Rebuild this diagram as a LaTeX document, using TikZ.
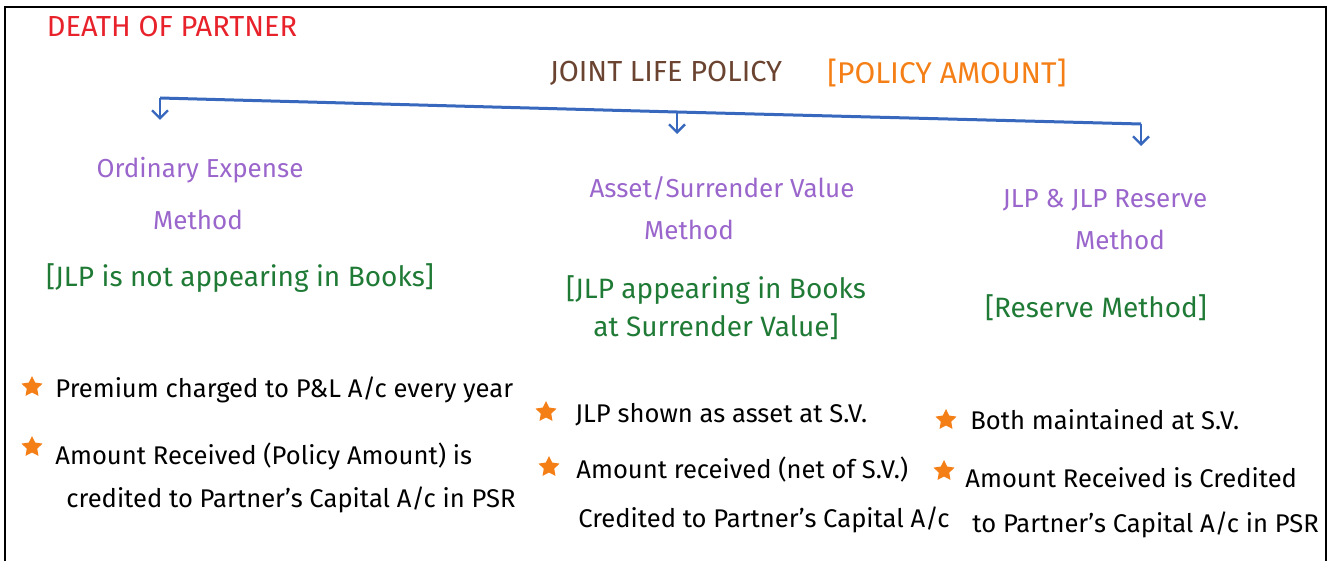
\documentclass[tikz,border=0pt]{standalone}
\usepackage{fontspec}
\setmainfont{Fira Sans}
\usetikzlibrary{arrows.meta,shapes.geometric,positioning}

\definecolor{titlered}{HTML}{E8222B}
\definecolor{policybrown}{HTML}{6B4431}
\definecolor{amtorange}{HTML}{F57F17}
\definecolor{barblue}{HTML}{3868BE}
\definecolor{methodpurple}{HTML}{9A66CC}
\definecolor{notegreen}{HTML}{1F7A35}

\tikzset{
  handtext/.style={inner sep=0pt, font=\fontsize{13}{15}\selectfont},
  method/.style={handtext, text=methodpurple, align=center},
  note/.style={handtext, text=notegreen, align=center, font=\fontsize{14}{16}\selectfont},
  point/.style={handtext, text=black, anchor=west, font=\fontsize{12.8}{15}\selectfont},
  bullet/.style={star, star points=5, star point ratio=2, fill=amtorange,
    inner sep=0pt, minimum size=11pt},
  bar/.style={barblue, line width=1.5pt},
  tip/.style={barblue, line width=1.2pt, -{Straight Barb[length=4pt,width=8pt]}}
}

\begin{document}
\begin{tikzpicture}[x=0.5pt,y=-0.5pt]

  \newcommand*{\xMin}{0}%
  \newcommand*{\xMax}{1333}%
  \newcommand*{\yMin}{0}%
  \newcommand*{\yMax}{561}%
  \useasboundingbox (\xMin,\yMin) rectangle (\xMax,\yMax);

  % frame, open at the bottom
  \draw[line width=1pt] (5,\yMax) -- (5,7) -- (1326,7) -- (1326,\yMax);

  % headings
  \node[handtext, text=titlered, font=\fontsize{14.5}{16}\selectfont] (death) at (172,27) {DEATH OF PARTNER};
  \node[handtext, text=policybrown, font=\fontsize{14.5}{16}\selectfont] (jlp) at (666,73) {JOINT LIFE POLICY};
  \node[handtext, text=amtorange, font=\fontsize{15}{17}\selectfont] (amt) at (947,73) {[POLICY AMOUNT]};

  % the bar and its three arrows
  \coordinate (barL) at (160,98);
  \coordinate (barM) at (677,112);
  \coordinate (barR) at (1141,124);
  \draw[bar] (barL) -- (barM) -- (barR);
  \foreach \c/\d in {barL/tipL, barM/tipM, barR/tipR} {
    \coordinate (\d) at ([yshift=-11pt]\c);
    \draw[tip] (\c) -- (\d);
  }

  % methods
  \node[method] (ordA) at (200,170) {Ordinary Expense};
  \node[method] (ordB) at (198,220) {Method};
  \node[method] (svA) at (722,188) {Asset/Surrender Value};
  \node[method] (svB) at (689,230) {Method};
  \node[method] (resA) at (1105,200) {JLP \& JLP Reserve};
  \node[method] (resB) at (1120,240) {Method};

  \node[note] (ordN) at (240,278) {[JLP is not appearing in Books]};
  \node[note] (svN) at (716,308) {[JLP appearing in Books\\[3pt] at Surrender Value]};
  \node[note] (resN) at (1096,308) {[Reserve Method]};

  % points under each method
  \node[bullet] (s1) at (32,387) {};
  \node[point] (p1) at (55,390) {Premium charged to P\&L A/c every year};
  \node[bullet] (s2) at (32,447) {};
  \node[point] (p2) at (55,456) {Amount Received (Policy Amount) is};
  \node[point] (p2b) at (66,500) {credited to Partner's Capital A/c in PSR};

  \node[bullet] (s3) at (546,412) {};
  \node[point] (p3) at (575,415) {JLP shown as asset at S.V.};
  \node[bullet] (s4) at (549,467) {};
  \node[point] (p4) at (576,470) {Amount received (net of S.V.)};
  \node[point] (p4b) at (578,520) {Credited to Partner's Capital A/c};

  \node[bullet] (s5) at (946,420) {};
  \node[point] (p5) at (970,420) {Both maintained at S.V.};
  \node[bullet] (s6) at (944,471) {};
  \node[point] (p6) at (965,478) {Amount Received is Credited};
  \node[point] (p6b) at (972,525) {to Partner's Capital A/c in PSR};

\end{tikzpicture}
\end{document}
